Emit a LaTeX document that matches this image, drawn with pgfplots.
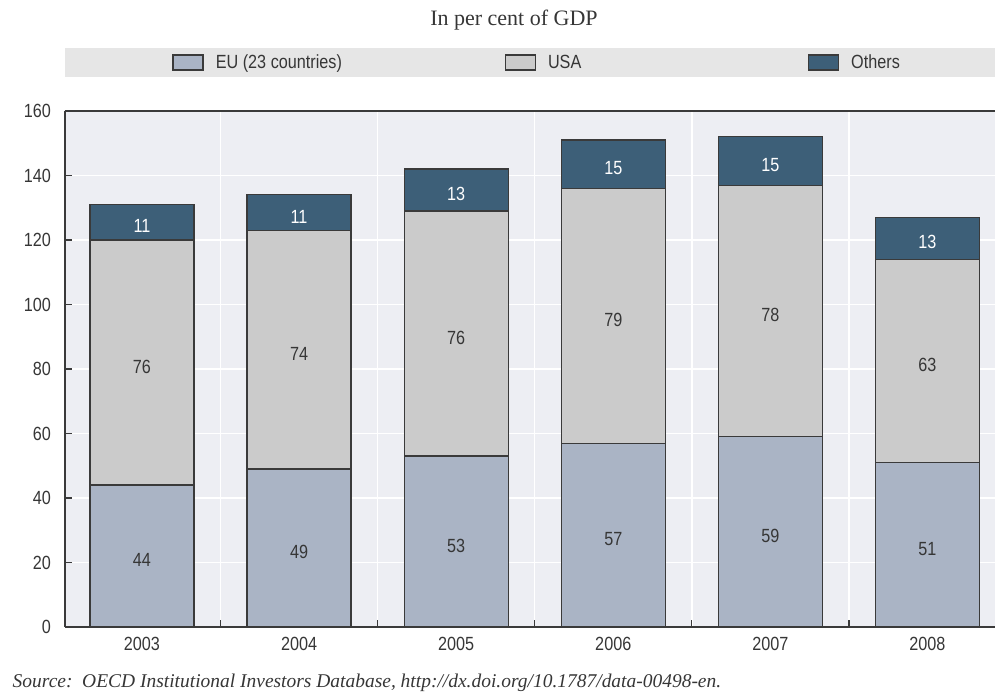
\documentclass[border=0pt]{standalone}
\usepackage{fontspec}
\setmainfont{Liberation Serif}
\newfontfamily\narrow{Liberation Sans}[FakeStretch=0.85]
\usepackage{pgfplots}
\usepackage{pgfplotstable}
\pgfplotsset{compat=1.18}

\definecolor{euc}{HTML}{AAB4C5}
\definecolor{usac}{HTML}{CBCBCB}
\definecolor{othc}{HTML}{3D5F78}
\definecolor{edgec}{HTML}{3A3A3A}
\definecolor{plotbg}{HTML}{EDEEF3}
\definecolor{bandc}{HTML}{E6E6E6}
\definecolor{txtc}{HTML}{363636}

% Institutional investors' assets, per cent of GDP
\pgfplotstableread{
x year eu usa oth
0 2003 44 76 11
1 2004 49 74 11
2 2005 53 76 13
3 2006 57 79 15
4 2007 59 78 15
5 2008 51 63 13
}\assets

\newcommand\lblfont{\narrow\fontsize{14.3}{16}\selectfont}

\pgfplotsset{
  frame/.style={
    scale only axis, width=697.5pt, height=387pt,
    xmin=-0.49, xmax=5.43, ymin=0, ymax=160,
  },
  sw/.style={legend image code/.code={\draw[##1, line width=0.9pt] (0pt,-5.6pt) rectangle (22.5pt,5.6pt);}},
}

\begin{document}
\begin{tikzpicture}
\useasboundingbox (-48.75pt,-51.75pt) rectangle (697.5pt,470.25pt);
\fill[bandc] (0pt,412.5pt) rectangle (697.5pt,434.25pt);
\node[font=\fontsize{16.5}{19}\selectfont, text=txtc] at (336.75pt,455.25pt) {In per cent of GDP};

\begin{axis}[frame,
  ybar stacked, bar width=78pt,
  axis background/.style={fill=plotbg},
  axis x line*=bottom, axis y line*=left,
  axis line style={edgec, line width=1.1pt, -},
  tick align=inside,
  tick style={edgec, line width=0.9pt},
  major tick length=5.25pt,
  ytick={0,20,...,160},
  ymajorgrids,
  xtick={0.5,1.5,2.5,3.5,4.5}, xticklabels={},
  xmajorgrids,
  major grid style={white, line width=1.1pt},
  extra x ticks={0,1,2,3,4,5},
  extra x tick labels={2003,2004,2005,2006,2007,2008},
  extra x tick style={major tick length=0pt, grid=none,
    xticklabel style={font=\lblfont, text=txtc, yshift=-4pt}},
  yticklabel style={font=\lblfont, text=txtc, xshift=-7pt},
  /pgf/number format/assume math mode=true,
  legend columns=3,
  legend style={at={(0.1151,1.094)}, anchor=west, draw=none, fill=none,
    font=\lblfont, text=txtc, inner sep=0pt,
    /tikz/every odd column/.append style={column sep=7.25pt},
    /tikz/every even column/.append style={column sep=0pt}},
]
\addplot[fill=euc, draw=edgec, line width=0.9pt, sw] table[x=x, y=eu]{\assets};
\addplot[fill=usac, draw=edgec, line width=0.9pt, sw] table[x=x, y=usa]{\assets};
\addplot[fill=othc, draw=edgec, line width=0.9pt, sw] table[x=x, y=oth]{\assets};
\legend{\makebox[214.5pt][l]{EU (23 countries)}, \makebox[192.75pt][l]{USA}, Others}
\draw[edgec, line width=1.1pt] (rel axis cs:0,1) -- (rel axis cs:1,1);
\end{axis}

% segment values, centred in each stacked segment
\begin{axis}[frame, hide axis, clip=false,
  nodes near coords={\pgfplotspointmeta},
  point meta=explicit symbolic,
  nodes near coords style={anchor=center, font=\lblfont, yshift=-3pt},
]
\addplot[draw=none, mark=none, nodes near coords style={text=txtc}]
  table[x=x, y expr=\thisrow{eu}/2, meta=eu]{\assets};
\addplot[draw=none, mark=none, nodes near coords style={text=txtc}]
  table[x=x, y expr=\thisrow{eu}+\thisrow{usa}/2, meta=usa]{\assets};
\addplot[draw=none, mark=none, nodes near coords style={text=white}]
  table[x=x, y expr=\thisrow{eu}+\thisrow{usa}+\thisrow{oth}/2, meta=oth]{\assets};
\end{axis}

\node[anchor=west, font=\itshape\fontsize{14.6}{17}\selectfont, text=txtc] at (-42.75pt,-42pt)
  {Source:\ \ OECD Institutional Investors Database, http://dx.doi.org/10.1787/data-00498-en.};
\end{tikzpicture}
\end{document}
